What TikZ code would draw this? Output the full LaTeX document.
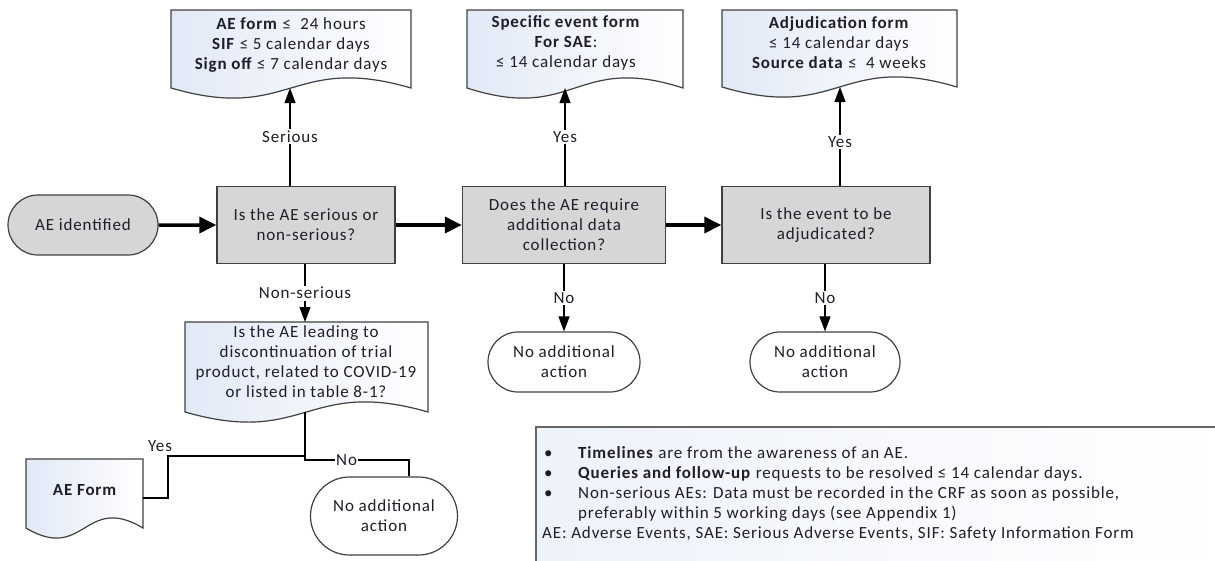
\documentclass[tikz,border=0pt]{standalone}
\usepackage{fontspec}
\setmainfont{Carlito}[LetterSpace=5]
\usetikzlibrary{arrows.meta,shapes.misc,calc}
\definecolor{boxgray}{HTML}{D6D6D6}
\definecolor{edgec}{HTML}{404040}
\definecolor{docblue}{HTML}{E2E9F6}
\definecolor{txt}{HTML}{1E1E2A}
\newcommand\docshape[4]{%
  \path[docsty] (#1,#2) -- (#3,#2) -- (#3,#4)
    .. controls ({(#1+#3)/2},{#4-35}) and ({(#1+#3)/2},{#4+35}) .. (#1,#4) -- cycle;}
\begin{document}
\begin{tikzpicture}[x=1pt,y=-1pt,
  every node/.style={font=\fontsize{17}{20}\selectfont, text=txt, inner sep=0pt},
  decision/.style={draw=edgec, line width=1.4pt, fill=boxgray, minimum width=#1,
    minimum height=77pt, align=center},
  decision/.default=180pt,
  terminal/.style={draw=edgec, line width=1.2pt, rounded rectangle, minimum width=150pt,
    minimum height=60pt, align=center},
  docsty/.style={draw=edgec, line width=1.2pt, left color=docblue, right color=white},
  mainarrow/.style={line width=3.5pt, -{Triangle[length=17pt,width=16pt]}},
  subarrow/.style={line width=1.2pt, -{Triangle[length=15pt,width=11pt]}},
  plainline/.style={line width=1.2pt},
  lbl/.style={fill=white, inner sep=1.5pt},
]
\useasboundingbox (0,0) rectangle (1215,560);

% document shapes
\docshape{171}{10}{411}{88}
\docshape{467}{10}{683}{88}
\docshape{722}{10}{957}{87}
\docshape{185}{322}{428}{412}
\docshape{26}{459}{143}{528}

\node[align=center] (doc1) at (291,45) {\textbf{AE form} ≤ \ 24 hours\\ \textbf{SIF} ≤ 5 calendar days\\ \textbf{Sign off} ≤ 7 calendar days};
\node[align=center] (doc2) at (566,43) {\textbf{Specific event form}\\ \textbf{For SAE}:\\ ≤ 14 calendar days};
\node[align=center] (doc3) at (839,43) {\textbf{Adjudication form}\\ ≤ 14 calendar days\\ \textbf{Source data} ≤ \ 4 weeks};
\node[align=center] (doc4) at (306,362) {Is the AE leading to\\ discontinuation of trial\\ product, related to COVID-19\\ or listed in table 8-1?};
\node (doc5) at (85,490) {\textbf{AE Form}};

\coordinate (doc1b) at (290,88);
\coordinate (doc2b) at (565,88);
\coordinate (doc3b) at (840,87);
\coordinate (doc4t) at (305,322);
\coordinate (doc4b) at (305,412);
\coordinate (doc5e) at (143,498);

% process nodes
\node[terminal, fill=boxgray] (start) at (83,225) {AE identified};
\node[decision=178pt] (box1) at (306,225) {Is the AE serious or\\ non-serious?};
\node[decision=203pt] (box2) at (564,225) {Does the AE require\\ additional data\\ collection?};
\node[decision=208pt] (box3) at (826,225) {Is the event to be\\ adjudicated?};

\node[terminal, fill=white, minimum width=147pt, minimum height=78pt] (t1) at (384,516) {No additional\\ action};
\node[terminal, fill=white, minimum width=152pt] (t2) at (564,362) {No additional\\ action};
\node[terminal, fill=white] (t3) at (825,362) {No additional\\ action};

% main flow
\draw[mainarrow] (start) -- (box1);
\draw[mainarrow] (box1) -- (box2);
\draw[mainarrow] (box2) -- (box3);

% branches
\draw[subarrow] (box1.north -| doc1b) -- node[lbl] {Serious} (doc1b);
\draw[subarrow] (box2.north -| doc2b) -- node[lbl] {Yes} (doc2b);
\draw[subarrow] (box3.north -| doc3b) -- node[lbl, pos=0.44] {Yes} (doc3b);
\draw[subarrow] (box1.south -| doc4t) -- node[lbl] {Non-serious} (doc4t);
\draw[subarrow] (box2.south) -- node[lbl] {No} (t2.north);
\draw[subarrow] (box3.south -| t3) -- node[lbl] {No} (t3.north);

\coordinate (j) at (305,456);
\coordinate (ycorner) at (168,456);
\coordinate (nstart) at (305,460);
\coordinate (ncorner) at (409,460);
\draw[plainline] (doc4b) -- (j) -- (ycorner) |- (doc5e);
\node (yeslbl) at (160,446) {Yes};
\draw[plainline] (j) -- (nstart) -- node[lbl, pos=0.4] {No} (ncorner) -- (t1.north -| ncorner);

% notes
\path[draw=edgec!80, line width=1.4pt, left color=docblue!60, right color=white] (536,427) rectangle (1222,568);
\node[anchor=north west, align=left] (notes) at (542,444) {%
  \begin{tabular}{@{}p{36pt}@{}l@{}}
  \hspace{2pt}\textbullet & \textbf{Timelines} are from the awareness of an AE.\\
  \hspace{2pt}\textbullet & \textbf{Queries and follow-up} requests to be resolved ≤ 14 calendar days.\\
  \hspace{2pt}\textbullet & Non-serious AEs: Data must be recorded in the CRF as soon as possible,\\
   & preferably within 5 working days (see Appendix 1)\\
  \multicolumn{2}{@{}l@{}}{AE: Adverse Events, SAE: Serious Adverse Events, SIF: Safety Information Form}
  \end{tabular}};
\end{tikzpicture}
\end{document}
